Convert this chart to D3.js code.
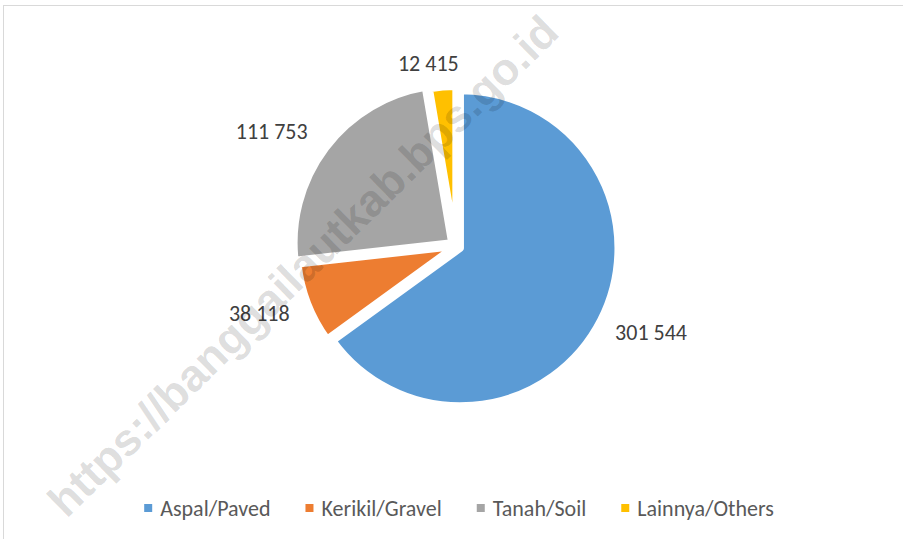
<!DOCTYPE html>
<html><head><meta charset="utf-8">
<script src="https://cdn.jsdelivr.net/npm/d3@7"></script>
<style>html,body{margin:0;padding:0;background:#fff;} svg{display:block;}</style>
</head><body><svg id="chart" width="903" height="539"></svg>
<script>
const categories = ["Aspal/Paved", "Kerikil/Gravel", "Tanah/Soil", "Lainnya/Others"];
const values = [301544, 38118, 111753, 12415];
const valueLabels = ["301 544", "38 118", "111 753", "12 415"];
const colors = ["#5b9bd5", "#ed7d31", "#a5a5a5", "#ffc000"];
const explode = [5, 1.5, 5.5, 2];
const labelNudge = [[0, -1], [-1, 0], [-9, 1], [-10, 5]];
const watermarkText = "https://banggailautkab.bps.go.id";

const W = 903, H = 539;
const svg = d3.select("#chart");
svg.append("rect").attr("x", 3.5).attr("y", 5.5).attr("width", W + 20).attr("height", H + 20)
  .attr("fill", "none").attr("stroke", "#d9d9d9").attr("stroke-width", 1);

const cx = 456, cy = 246, R = 157.5, labelPad = 20.5;
const fontFam = "Carlito, Calibri, Lato, sans-serif";
const pieData = d3.pie().sort(null).value(d => d)(values);
const arc = d3.arc().innerRadius(0).outerRadius(R);
const g = svg.append("g").attr("transform", `translate(${cx},${cy})`);

pieData.forEach((d, i) => {
  const mid = (d.startAngle + d.endAngle) / 2;
  const ux = Math.sin(mid), uy = -Math.cos(mid);
  g.append("path")
    .attr("d", arc(d))
    .attr("transform", `translate(${ux * explode[i]},${uy * explode[i]})`)
    .attr("fill", colors[i])
    .attr("stroke", "#ffffff")
    .attr("stroke-width", 7)
    .attr("stroke-linejoin", "round");
});

pieData.forEach((d, i) => {
  const mid = (d.startAngle + d.endAngle) / 2;
  const ux = Math.sin(mid), uy = -Math.cos(mid);
  const t = g.append("text")
    .attr("font-family", fontFam)
    .attr("font-size", 22)
    .attr("fill", "#404040")
    .attr("text-anchor", "middle")
    .attr("dominant-baseline", "central")
    .text(valueLabels[i]);
  const w = t.node().getComputedTextLength();
  const hh = 8.5;
  const rl = R + explode[i] + labelPad;
  t.attr("x", ux * rl + ux * w / 2 + labelNudge[i][0])
   .attr("y", uy * rl + uy * hh + labelNudge[i][1]);
});

// legend
const legend = svg.append("g");
const sq = 8, gapSq = 8, gapItem = 35;
let xPos = 0;
categories.forEach((c, i) => {
  const it = legend.append("g");
  it.append("rect").attr("x", 0).attr("y", -sq / 2).attr("width", sq).attr("height", sq).attr("fill", colors[i]);
  const tx = it.append("text").attr("x", sq + gapSq).attr("y", 0)
    .attr("font-family", fontFam)
    .attr("font-size", 22).attr("fill", "#595959")
    .attr("dominant-baseline", "central").text(c);
  const w = sq + gapSq + tx.node().getComputedTextLength();
  it.attr("transform", `translate(${xPos},0)`);
  xPos += w + gapItem;
});
const totalW = xPos - gapItem;
legend.attr("transform", `translate(${459 - totalW / 2},508)`);

// watermark
svg.append("text")
  .attr("transform", "translate(303,266) rotate(-44.4)")
  .attr("font-family", "Liberation Sans, Arial, sans-serif")
  .attr("font-weight", "bold")
  .attr("font-size", 45)
  .attr("fill", "rgba(0,0,0,0.14)")
  .attr("text-anchor", "middle")
  .attr("dominant-baseline", "central")
  .text(watermarkText);
</script>
</body></html>
